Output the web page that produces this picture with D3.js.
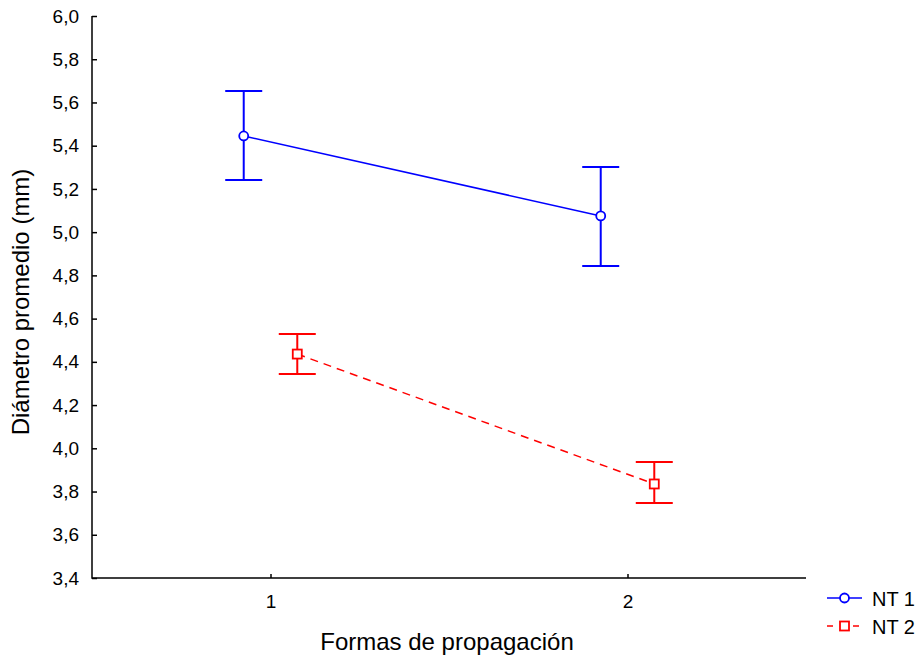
<!DOCTYPE html>
<html>
<head>
<meta charset="utf-8">
<script src="https://cdn.jsdelivr.net/npm/d3@7"></script>
<style>
  html, body { margin: 0; padding: 0; background: #fff; }
  svg { display: block; font-family: Arial, "Liberation Sans", sans-serif; }
</style>
</head>
<body>
<svg id="chart" width="919" height="658"></svg>
<script>
// Grouping levels on the x axis
const groups = [1, 2];
const groupLabels = ["1", "2"];
// Series names
const seriesNames = ["NT 1", "NT 2"];
// Means per group
const nt1Mean = [5.445, 5.075];
const nt2Mean = [4.436, 3.835];
// Error bar bounds per group
const nt1Low = [5.241, 4.843];
const nt1High = [5.653, 5.301];
const nt2Low = [4.344, 3.747];
const nt2High = [4.529, 3.937];
// Y tick values
const yTicks = [3.4, 3.6, 3.8, 4.0, 4.2, 4.4, 4.6, 4.8, 5.0, 5.2, 5.4, 5.6, 5.8, 6.0];

(function () {
const svg = d3.select("#chart");
const mLeft = 92, mRight = 806, mTop = 16, mBottom = 578;

const x = d3.scaleLinear().domain([0.5, 2.5]).range([mLeft, mRight]);
const y = d3.scaleLinear().domain([3.4, 6.0]).range([mBottom, mTop]);
const fmt = v => d3.format(".1f")(v).replace(".", ",");

// Axes (ticks point inward)
const yAxis = d3.axisLeft(y).tickValues(yTicks).tickFormat(fmt).tickSize(-5).tickPadding(13);
const xAxis = d3.axisBottom(x).tickValues(groups).tickFormat((d, i) => groupLabels[i]).tickSize(-4).tickPadding(17);

const gy = svg.append("g").attr("transform", `translate(${mLeft},0)`).call(yAxis);
const gx = svg.append("g").attr("transform", `translate(0,${mBottom})`).call(xAxis);
[gy, gx].forEach(g => {
  g.attr("font-size", null).attr("font-family", null);
  g.select(".domain").remove();
  g.selectAll("line").attr("stroke", "#000").attr("stroke-width", 1.5);
  g.selectAll("text").attr("font-size", 19).attr("fill", "#000");
});
// L-shaped frame
svg.append("path")
  .attr("d", `M${mLeft},${mTop} V${mBottom} H${mRight}`)
  .attr("fill", "none").attr("stroke", "#000").attr("stroke-width", 1.5);

// Axis titles
svg.append("text")
  .attr("transform", `translate(29,302) rotate(-90)`)
  .attr("text-anchor", "middle").attr("font-size", 24).text("Diámetro promedio (mm)");
svg.append("text")
  .attr("x", 447).attr("y", 650)
  .attr("text-anchor", "middle").attr("font-size", 24).text("Formas de propagación");

const series = [
  { name: seriesNames[0], mean: nt1Mean, lo: nt1Low, hi: nt1High, color: "#0000ff", offset: -0.075, marker: "circle", dash: null },
  { name: seriesNames[1], mean: nt2Mean, lo: nt2Low, hi: nt2High, color: "#ff0000", offset: 0.075, marker: "square", dash: "8,6" }
];

function drawMarker(g, s, cx, cy) {
  if (s.marker === "circle") {
    g.append("circle").attr("cx", cx).attr("cy", cy).attr("r", 4.5)
      .attr("fill", "#fff").attr("stroke", s.color).attr("stroke-width", 1.8);
  } else {
    g.append("rect").attr("x", cx - 4.5).attr("y", cy - 4.5).attr("width", 9).attr("height", 9)
      .attr("fill", "#fff").attr("stroke", s.color).attr("stroke-width", 1.8);
  }
}

const capHalf = 18.5;
series.forEach(s => {
  const pts = groups.map((g, i) => ({ gx: x(g + s.offset), m: s.mean[i], lo: s.lo[i], hi: s.hi[i] }));
  const g = svg.append("g");
  // connecting line
  g.append("path")
    .attr("d", d3.line().x(d => d.gx).y(d => y(d.m))(pts))
    .attr("fill", "none").attr("stroke", s.color).attr("stroke-width", 1.5)
    .attr("stroke-dasharray", s.dash);
  // error bars
  pts.forEach(p => {
    g.append("line").attr("x1", p.gx).attr("x2", p.gx).attr("y1", y(p.lo)).attr("y2", y(p.hi))
      .attr("stroke", s.color).attr("stroke-width", 2);
    [p.lo, p.hi].forEach(v => g.append("line")
      .attr("x1", p.gx - capHalf).attr("x2", p.gx + capHalf).attr("y1", y(v)).attr("y2", y(v))
      .attr("stroke", s.color).attr("stroke-width", 2));
  });
  // markers
  pts.forEach(p => drawMarker(g, s, p.gx, y(p.m)));
});

// Legend
const legY = [598, 626];
series.forEach((s, i) => {
  const lg = svg.append("g");
  lg.append("line").attr("x1", 827).attr("x2", 862).attr("y1", legY[i]).attr("y2", legY[i])
    .attr("stroke", s.color).attr("stroke-width", 1.5)
    .attr("stroke-dasharray", s.dash ? "6,7" : null);
  drawMarker(lg, s, 844.5, legY[i]);
  lg.append("text").attr("x", 872).attr("y", legY[i] + 8).attr("font-size", 20).text(s.name);
});
})();
</script>
</body>
</html>
